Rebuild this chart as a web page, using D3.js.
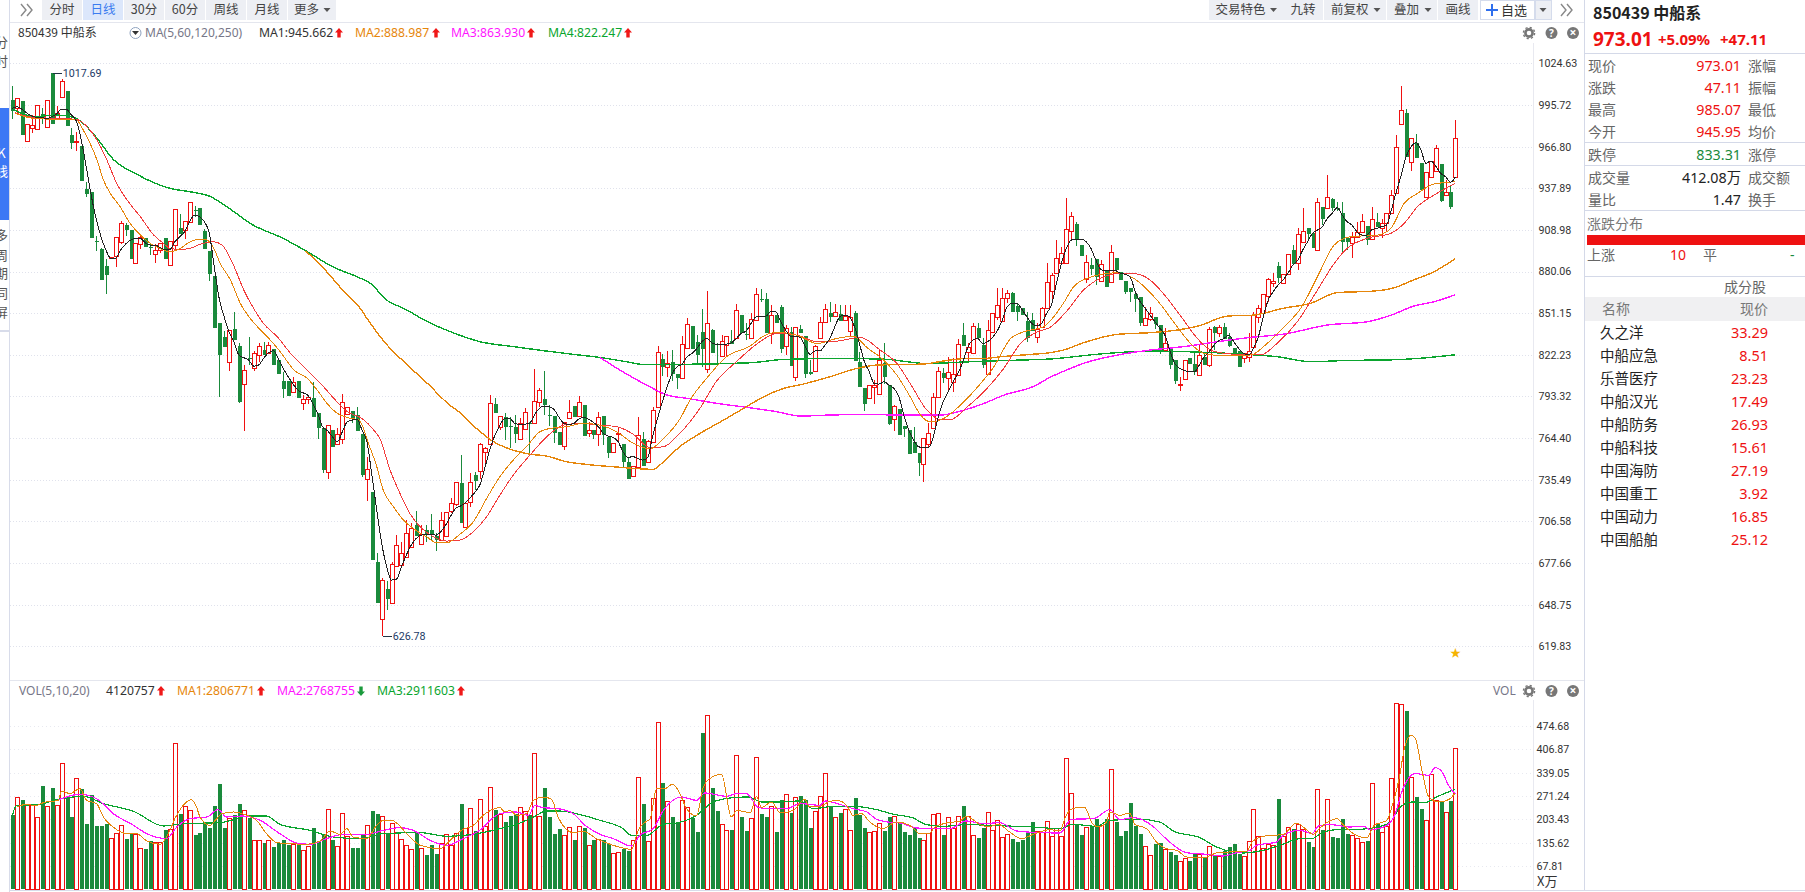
<!DOCTYPE html>
<html><head><meta charset="utf-8">
<style>html,body{margin:0;padding:0;background:#fff;overflow:hidden}svg{display:block}</style>
<script src="https://cdn.jsdelivr.net/npm/d3@7/dist/d3.min.js"></script></head>
<body><svg id="c" width="1805" height="892"></svg>
<script>
// ---------- candle data (index 0..293) ----------
const opens=[999.1,993.3,998.2,970.9,979.9,978.7,989.2,980.6,1017.6,985.7,
1001.0,1005.1,974.8,970.6,967.2,937.3,935.5,901.4,895.6,883.8,
889.6,890.8,900.7,912.3,908.8,885.7,898.9,903.0,896.8,891.9,
894.9,903.0,884.3,898.2,910.0,908.8,914.2,922.8,923.9,908.4,
894.5,876.9,844.5,834.7,817.4,839.8,828.3,802.3,819.7,813.4,
822.0,825.5,823.2,826.0,818.6,803.7,803.7,796.6,803.7,788.7,
791.2,791.9,781.5,771.1,741.0,770.0,760.3,763.5,780.9,783.2,
780.4,767.2,736.2,726.9,678.3,638.5,659.3,650.0,675.5,676.2,
682.0,688.9,704.0,690.6,700.5,700.5,696.6,693.6,696.6,714.0,
718.6,732.9,702.8,720.2,738.5,741.7,754.9,760.0,788.0,771.8,
778.8,772.9,771.8,763.5,770.4,775.1,774.6,789.7,791.3,780.5,
779.7,768.4,759.1,778.5,786.6,779.7,787.3,768.1,770.0,767.2,
779.9,765.3,754.5,767.4,760.3,747.8,738.3,744.5,763.7,747.5,
761.9,785.7,819.3,814.0,817.0,808.9,806.3,826.7,842.2,830.9,
838.0,812.1,839.4,829.5,821.6,829.2,831.8,833.6,849.6,836.7,
834.1,846.3,861.2,860.7,837.5,849.8,855.4,828.5,838.2,807.0,
839.8,835.2,810.4,810.9,834.1,844.7,851.0,849.3,850.3,846.3,
838.9,851.4,817.2,798.9,791.9,799.6,794.9,816.2,801.6,777.8,
784.5,772.7,769.9,761.8,754.2,746.3,760.2,771.6,792.6,809.8,
806.3,803.5,808.1,835.9,824.1,823.2,840.5,829.0,808.6,838.0,
848.2,845.6,861.8,864.9,856.1,854.7,845.6,846.1,834.8,841.7,
854.9,866.7,879.2,885.7,886.2,908.4,913.3,898.5,874.8,884.6,
888.5,873.7,881.1,872.5,889.2,880.0,873.5,868.6,864.2,862.1,
843.1,847.3,848.7,842.9,825.5,827.9,818.4,801.9,805.6,820.2,
815.8,808.2,820.9,815.1,841.3,837.1,841.3,834.3,826.7,824.6,
819.7,820.4,827.9,848.2,851.5,863.3,872.3,883.9,871.8,878.3,
894.9,885.7,900.8,910.0,906.6,895.0,925.1,923.9,930.4,923.9,
920.5,903.1,899.6,904.2,907.3,911.6,902.4,914.7,910.0,913.5,
920.9,934.8,982.5,989.9,956.3,969.1,955.6,932.0,945.9,950.1,954.7,933.2,935.0,945.95];
const closes=[991.7,1000.3,975.0,982.2,981.5,995.4,985.7,998.9,982.2,989.9,
1012.1,981.3,969.0,970.9,943.1,933.8,903.5,901.0,874.1,877.8,
889.9,903.7,913.5,908.8,888.7,899.6,903.7,897.3,896.4,894.9,
899.6,888.5,901.4,923.2,906.3,914.9,928.0,922.4,912.5,895.9,
878.5,841.0,822.2,827.8,839.4,832.4,789.4,811.4,819.2,823.2,
828.3,822.0,829.0,815.1,809.1,798.4,793.6,803.5,792.4,791.7,
792.6,779.2,771.6,742.2,773.4,758.4,767.0,789.7,785.7,778.1,
769.3,738.7,742.7,679.7,650.0,665.8,652.8,676.9,690.1,684.3,
698.2,701.7,696.6,697.7,697.0,697.0,693.6,707.5,712.8,719.0,
733.6,705.6,719.0,733.6,734.8,760.3,757.2,788.5,782.0,779.7,
772.3,772.7,767.2,774.6,782.7,773.9,790.1,797.8,787.3,780.3,
768.1,759.6,775.3,782.2,778.8,789.7,766.0,770.0,766.5,778.8,
766.5,754.2,760.7,767.7,747.8,736.2,744.7,766.3,745.2,762.3,
783.9,823.9,814.0,816.3,808.9,805.9,829.5,843.4,826.2,822.1,
826.2,844.1,823.7,829.3,832.0,835.3,829.5,853.1,837.5,836.4,
846.8,864.4,861.0,837.5,849.8,844.5,826.2,840.5,814.6,841.2,
837.1,808.6,808.8,828.3,844.7,853.7,848.6,851.7,845.6,849.1,
848.6,817.9,800.0,788.0,801.6,801.6,818.6,807.0,774.1,786.6,
766.5,770.6,753.3,754.2,747.2,764.8,767.6,792.6,810.9,806.3,
810.2,808.8,829.7,828.3,827.3,842.2,833.8,815.1,839.4,851.0,
856.5,861.4,865.3,851.7,852.1,849.8,833.6,838.9,840.1,854.4,
872.5,877.6,889.2,892.7,909.3,918.6,901.9,890.8,886.4,881.6,
876.5,885.3,869.5,893.4,881.1,874.2,865.6,865.6,861.0,844.5,
847.5,851.0,843.6,825.5,830.2,815.1,804.0,802.1,818.6,815.8,
810.5,822.1,815.1,839.9,837.1,841.3,833.2,828.5,822.8,813.5,
823.7,825.1,849.8,854.5,864.2,874.8,873.7,875.3,878.1,892.2,
885.3,905.9,907.9,905.9,896.1,928.1,916.5,931.6,923.9,923.6,
900.8,900.8,903.8,907.7,915.1,901.9,916.3,911.2,913.5,920.9,
933.2,966.7,992.2,959.3,972.5,958.6,936.6,949.4,957.0,966.0,929.0,935.5,925.1,973.01];
const highs=[1008.8,1000.3,998.2,982.2,988.7,995.4,993.3,998.9,1017.69,995.0,
1013.5,1005.1,979.4,977.1,967.2,941.9,935.5,904.7,896.6,888.5,
890.3,903.7,915.1,913.9,908.8,899.6,906.1,903.0,900.0,898.9,
899.6,903.0,901.4,923.2,919.9,914.9,928.0,925.7,923.9,909.5,
894.5,876.9,844.5,838.7,839.4,851.7,830.1,815.1,834.7,824.8,
830.6,831.3,831.3,826.0,818.6,810.0,803.7,807.0,803.7,794.2,
792.6,803.5,781.5,771.1,773.4,770.0,771.1,794.7,785.7,783.2,
785.7,767.2,751.5,726.9,684.3,667.4,665.1,678.5,697.0,692.0,
707.5,705.2,713.7,704.0,704.0,711.4,698.2,713.3,712.8,723.0,
733.6,752.6,719.0,740.3,741.0,761.2,758.4,794.3,792.0,779.7,
782.0,778.8,780.4,778.1,785.0,775.8,812.3,798.9,811.0,787.3,
779.7,768.4,775.3,790.8,786.6,793.6,787.3,775.8,770.0,782.7,
779.9,765.3,760.7,771.8,760.3,751.0,744.7,778.8,768.4,763.0,
786.2,828.3,822.8,824.8,825.5,808.9,835.3,847.5,842.2,835.9,
854.0,866.3,839.9,830.2,835.9,835.3,839.4,857.5,849.6,844.0,
851.0,868.3,867.6,864.9,856.7,849.8,856.7,842.9,841.7,841.7,
842.9,835.2,818.6,829.0,848.6,857.4,858.6,857.4,856.7,856.7,
856.7,852.6,824.3,798.9,801.6,804.7,825.5,830.6,801.6,787.3,
784.5,772.7,769.9,771.8,754.2,764.8,775.0,795.4,813.9,812.8,
820.4,819.7,832.9,844.5,830.1,844.0,844.0,833.6,846.3,851.0,
868.3,868.3,867.2,866.0,857.9,854.7,852.1,851.0,844.0,855.1,
885.7,878.7,902.0,896.8,930.9,921.1,914.2,898.5,891.5,889.2,
888.5,888.0,881.1,898.5,889.2,880.0,873.5,868.6,864.2,862.1,
855.6,855.6,848.7,842.9,840.6,827.9,818.4,807.0,818.6,820.2,
823.9,829.0,824.4,841.7,842.2,842.9,844.5,837.1,826.7,825.0,
823.7,837.1,852.2,856.8,864.2,875.3,878.8,886.4,878.1,892.2,
898.5,910.0,923.9,910.0,906.6,930.9,925.1,947.1,930.9,928.5,
928.1,903.1,907.7,914.7,920.0,911.6,924.6,920.4,916.5,920.9,
936.7,974.8,1008.9,992.9,972.5,975.3,955.6,949.4,957.0,967.9,954.7,943.6,940.1,985.07];
const lows=[985.7,990.3,975.0,970.9,976.4,978.7,982.2,980.6,982.2,985.2,
1000.3,981.3,965.1,963.7,943.1,931.5,903.5,894.5,874.1,864.4,
889.2,883.4,898.9,904.9,888.7,885.7,895.6,897.3,891.5,885.7,
893.1,888.5,884.3,894.9,906.3,902.6,914.2,918.1,912.5,895.9,
873.6,841.0,793.1,827.8,811.1,832.4,788.9,769.5,815.1,811.1,
817.4,822.0,823.2,815.1,809.1,791.9,793.6,796.6,792.4,783.8,
787.8,779.2,763.9,739.9,735.9,758.4,759.6,760.3,780.9,774.6,
769.3,737.6,720.9,679.7,650.0,626.78,645.0,650.0,675.0,673.9,
682.0,688.9,696.6,690.6,692.4,693.6,686.2,693.6,695.4,712.1,
717.2,705.6,702.8,716.7,728.3,735.9,746.8,760.0,781.5,770.0,
763.0,757.2,760.7,763.5,770.4,752.6,774.6,785.7,780.4,772.8,
761.2,759.6,756.1,778.5,778.8,779.7,766.0,765.3,763.5,759.1,
759.6,750.3,754.5,760.7,744.0,736.2,737.1,744.5,745.2,747.5,
761.9,785.0,807.5,807.0,804.2,798.7,805.9,826.0,826.2,815.8,
814.0,809.3,823.7,814.7,821.6,820.9,829.5,833.6,837.5,832.4,
834.1,846.3,859.1,837.5,829.7,844.5,823.2,822.0,814.6,804.2,
837.1,806.3,808.1,810.9,834.1,844.7,845.2,849.3,845.6,846.3,
835.2,817.9,800.0,783.1,791.9,788.0,794.9,801.9,773.4,769.5,
766.5,765.3,753.3,754.2,738.0,734.1,758.4,771.6,792.6,802.8,
796.6,796.6,808.1,828.3,816.2,823.2,833.8,812.8,808.1,838.0,
846.3,845.6,857.9,851.7,845.6,849.8,831.3,838.9,830.1,841.7,
854.9,860.2,879.2,885.7,886.2,901.9,898.0,890.8,872.3,877.6,
870.7,873.7,869.5,872.5,881.1,874.2,864.4,858.6,852.2,842.2,
843.1,845.9,840.1,822.5,823.9,812.1,801.9,797.3,805.4,815.8,
808.2,807.7,815.1,814.0,825.5,834.8,833.2,827.4,822.8,813.5,
816.7,817.4,827.9,844.5,851.5,859.1,869.1,872.3,871.8,878.3,
885.3,881.1,900.8,901.9,896.1,894.3,912.3,923.9,922.3,922.0,
892.7,895.0,889.7,904.2,907.3,898.5,902.4,911.2,903.1,907.7,
920.9,934.3,982.5,959.3,950.1,958.6,936.6,932.0,945.9,950.1,928.5,932.5,923.2,945.95];
// volumes in units of 10k
const volumes=[215.3,268.7,259,244.4,244.4,210.5,299.7,241.5,294.9,244.4,
368.6,268.7,210.5,325,291,189.2,273.5,183.3,183.3,189.2,
150.4,164.9,188.2,145.5,162,162,121.3,116.4,139.7,137.7,
137.7,171.7,176.5,426.8,218.3,243.5,229.9,157.1,163.9,191.1,
178.5,241.5,307.5,178.5,207.6,215.3,247.4,229.9,207.6,144.5,
144.5,134.8,142.6,123.2,134.8,142.6,128,131,134.8,115.4,
125.1,178.5,137.7,162,234.7,142.6,125.1,223.1,155.2,120.3,
120.3,157.1,188.2,227,218.3,214.4,162,194,166.8,147.4,
128,118.3,163.9,121.3,98.9,128,101.9,135.8,162,128,
164.9,247.4,179.5,237.7,168.8,263.8,183.3,298.8,229.9,218.3,
195,212.4,218.3,239.6,228.9,215.3,397.7,214.4,293.9,209.5,
160,174.6,159.1,182.4,142.6,185.3,177.5,130,142.6,147.4,
144.5,131,106.7,109.6,116.4,110.6,144.5,327.9,247.4,141.6,
266.8,487.9,308.5,258,209.5,195,260.9,240.6,208.6,165.9,
454,508.3,293.9,227,191.1,173.6,171.7,391.9,209.5,168.8,
208.6,386.1,218.3,209.5,243.5,165.9,259,278.4,221.2,268.7,
270.6,259,177.5,228.9,271.6,339.5,238.6,211.5,221.2,234.7,
173.6,264.8,215.3,177.5,165.9,170.7,194,168.8,209.5,214.4,
192.1,165.9,157.1,177.5,148.4,144.5,163.9,220.2,223.1,157.1,
211.5,179.5,214.4,241.5,214.4,159.1,148.4,177.5,226,173.6,
202.7,153.3,162,145.5,136.8,142.6,163,195,168.8,165.9,
199.8,156.2,177.5,156.2,383.2,281.3,189.2,157.1,182.4,185.3,
203.7,188.2,203.7,351.1,195,154.2,168.8,250.3,183.3,160,
127.1,100.9,131,133.9,118.3,107.7,98.9,83.4,92.2,81.5,
103.8,103.8,92.2,127.1,98,98,110.6,122.2,131,101.9,
98,141.6,234.7,156.2,121.3,131,130,261.9,156.2,182.4,
174.6,191.1,176.5,136.8,122.2,292.9,171.7,263.8,151.3,148.4,
203.7,160,159.1,150.4,138.7,139.7,310.4,191.1,167.8,185.3,
325,543.2,538.4,518,326.9,267.7,232.8,202.7,336.6,259,254.1,226,256.1,412.08];
// ---------- price moving averages ----------
const ma1Line=[993.3,994.5,992.5,989.9,988.0,987.1,986.8,986.4,987.5,989.4,
992.9,992.6,988.7,984.5,971.3,952.8,933.1,916.9,904.2,895.0,
889.2,889.2,895.0,899.1,901.9,903.0,903.0,900.0,898.4,898.4,
896.8,895.0,895.4,900.7,904.2,907.7,914.6,919.2,918.1,914.6,
906.5,883.4,861.4,848.7,838.2,831.3,822.0,820.2,818.6,814.4,
815.1,819.7,823.6,825.0,819.7,812.8,807.0,801.9,797.7,795.9,
794.2,788.5,781.5,772.2,769.5,765.3,761.8,768.8,775.7,776.9,
777.4,770.0,761.9,738.7,714.4,691.3,675.0,665.8,666.5,675.0,
683.2,690.1,694.7,697.0,697.5,697.7,697.0,699.4,704.0,710.2,
715.6,717.2,719.5,723.2,727.1,732.5,744.5,757.2,766.5,773.4,
778.1,778.1,774.6,773.9,774.1,774.6,780.4,785.0,786.6,786.2,
784.3,778.8,774.6,773.9,774.6,777.6,778.8,777.4,775.3,772.3,
767.7,765.8,764.9,761.9,754.9,751.0,751.5,750.3,749.1,751.0,
765.3,778.1,789.7,800.5,809.3,814.0,815.6,820.9,823.2,826.7,
831.3,833.6,830.6,829.5,829.7,829.7,830.6,833.6,837.1,838.7,
844.0,848.6,849.1,849.1,852.1,852.1,845.2,839.4,835.2,835.2,
834.3,827.8,822.5,825.0,825.0,829.0,833.6,841.7,848.6,849.8,
848.6,841.7,830.1,817.4,810.4,802.3,801.9,803.5,801.2,798.9,
793.1,780.4,769.9,763.0,758.4,757.7,757.7,765.3,779.2,789.6,
796.6,803.5,809.3,817.4,827.3,832.4,833.6,830.1,831.3,834.3,
838.9,846.3,855.6,857.9,857.9,853.7,848.6,844.0,842.4,844.0,
851.0,857.0,871.8,885.7,896.1,901.9,902.4,902.4,900.8,896.1,
888.0,881.6,880.6,880.6,880.6,878.8,878.1,876.0,866.0,859.1,
854.5,849.8,845.2,840.6,836.0,825.5,816.3,812.8,811.2,810.5,
810.5,815.1,820.9,824.4,829.0,832.0,833.6,835.9,831.3,826.7,
823.2,822.1,826.7,834.8,848.7,860.3,866.0,870.7,874.2,878.8,
884.6,888.0,895.0,900.8,906.6,908.9,911.2,917.0,920.5,924.4,
919.3,914.7,912.3,907.7,905.4,905.4,908.9,910.0,911.2,912.3,
922.8,935.5,947.1,959.8,966.7,969.5,964.4,955.2,956.8,953.3,948.2,945.9,942.0,945.66];
const shortOrange=[[.5,989.9],[4.3,986.4],[9,985.7],[13,985.2],[14.4,978.3],[15.8,969],[17.2,957.4],[18.5,943.6],[19.9,934.3],[21.9,925],[23.9,913.5],[26,905.4],[28,899.6],[30,896.1],[32,893.8],[34.1,896.1],[36.1,900.7],[38.2,902.4],[39.5,901.9],[40.9,896.1],[42.2,885.7],[44.3,874.1],[46.3,857.9],[48.3,847.5],[50.4,839.4],[52.4,832.4],[54.4,824.3],[57.2,811.6],[59.9,805.8],[61.9,797.7],[63.9,788.5],[66,781.5],[68,778.7],[70.4,776.9],[72.3,760.7],[74,744.5],[75.3,728.3],[77.4,716.7],[79.4,707.5],[81.4,701.7],[84.1,695.9],[86.2,691.7],[88.2,691.7],[90.9,697.7],[93.6,706.3],[96.3,722.5],[99,737.6],[101.7,749.1],[104.4,758.4],[107.1,768.8],[109.2,771.1],[112.5,772.3],[115.9,774.6],[119.3,773.4],[122.7,768.8],[126.1,760.7],[129.5,757],[132.2,764],[135.6,778],[137.6,790.8],[141,806],[145,820.9],[149.8,828.3],[152.5,835.2],[155.2,837.8],[159.3,835.9],[163.4,830.1],[167.4,833.6],[170.8,835.2],[173.5,827.3],[176.9,818.6],[179.6,808.1],[182.3,793.1],[184.4,780.4],[186.4,775.7],[189.1,778],[192.5,787.3],[196.6,802.3],[199.3,813.9],[202.7,833.6],[205.4,838.2],[209.5,842],[213.4,858],[215.5,869.5],[218.2,875.3],[224.3,879.2],[227.7,875.3],[232.4,860.3],[236.5,841.7],[239.2,830.2],[241.9,823.2],[246,821.6],[251.4,822.1],[254.8,830.2],[258.2,841.7],[261.6,854.5],[265,876.5],[268.4,898.5],[271.7,904.2],[277.2,905.4],[279.9,910],[282.6,927.4],[285.3,934.3],[288.7,940.8],[293,942.4]];
const shortRed=[[.5,990.3],[4.3,987.1],[9,986.4],[13,985.7],[15.5,979.4],[17.2,971.3],[19.2,957.4],[21.2,941.2],[23.3,929.7],[26,918.1],[28.7,905.4],[30.7,899.6],[32,896.1],[34.1,895.4],[36.1,896.1],[38.2,899.1],[40.9,900.7],[42.6,898.4],[44.9,884.5],[47,867.2],[49,854.4],[51,844],[53.8,834.7],[56.5,823.2],[59.9,811.6],[62.6,802.3],[65.3,791.9],[68,782.7],[71,778],[73.4,769.9],[74.6,764.2],[76.7,742.2],[78.7,726],[80.7,712.1],[82.8,702.8],[85.5,695.9],[88.2,692.9],[90.9,693.6],[93.6,699.4],[96.3,709.8],[99,724.8],[101.7,738.7],[105.1,752.6],[108.5,765.3],[111.9,773.4],[115.3,774.6],[119.3,773.4],[122.7,772.3],[126.1,767],[129.5,757.7],[132.2,758.4],[135.6,768],[139.6,785],[143,804],[147,817.4],[151.8,831.3],[155.2,837.1],[159.3,835.9],[163.4,831.3],[167.4,831.7],[172.2,834.3],[176.2,825.5],[179.6,816.2],[182.3,802.3],[185.7,783.8],[188.5,777.3],[190.5,777.3],[193.9,786.1],[197.9,798.9],[201.3,812.8],[204.7,830.1],[208.1,838.2],[210.7,841.3],[214,852.2],[217.5,867.2],[220.9,875.3],[225.3,878.8],[228.4,878.3],[231,874.2],[234.5,861.4],[237.8,846.4],[240.6,833.6],[243.3,825.5],[247.3,822.8],[253.4,822.1],[256.8,830.2],[260.9,845.2],[265,867.2],[268.4,885.7],[271,896.1],[275.1,903.1],[279.9,906.6],[282.6,913.5],[285.3,925.1],[288.7,933.2],[293,941.3]];
const ma2Line=[[59.5,894.5],[62.6,884.5],[68,863.7],[70.4,855.6],[72,847.5],[76.1,829],[78.8,819.7],[84.3,802.3],[89,786.8],[90.2,783.9],[95,768.8],[97.7,761.9],[101,756.8],[105,753.3],[108.5,751.9],[112.5,748],[116.6,746.1],[122,744.5],[126,743.4],[130.1,742.7],[132.5,749],[135.5,758.4],[139.6,767.6],[144.4,776.9],[149,786.1],[152.5,793],[156.6,798.9],[160.6,801.9],[166,807],[171.5,812.8],[175.6,815.1],[180.3,815.5],[185,815.8],[189,817.9],[194,819.7],[197.3,819.7],[200.7,820.9],[206.8,822.5],[210.7,823.7],[213.4,825.5],[217.5,830.6],[224.3,836.4],[231,837.6],[236.5,839.4],[241,842.4],[246.7,849.1],[252,849.8],[258,854.5],[263.6,858],[269,865.4],[276.5,866.5],[280.6,868.8],[284,873.5],[288.7,880],[293,888.99]];
const ma3Line=[[119.3,820.4],[124.7,808.9],[128.8,801.2],[132.9,794.3],[137,792],[143,788.5],[149.9,785.4],[155.2,782.7],[160,779.7],[166,780.4],[173.5,780.8],[180.3,780.4],[188.5,780.4],[193.2,783.8],[197.3,788.5],[201.3,794.2],[207.5,800.5],[210.7,806.6],[214,811.6],[217.5,816.3],[224.3,822],[231,825.5],[237.8,827.9],[244.6,831.3],[251.4,834.3],[258.2,836.6],[267,842.9],[275.1,845.2],[280,849.8],[284.6,856.1],[288.7,859.1],[293,863.93]];
const ma4Line=[[.5,992.2],[4.3,987.6],[9,988.7],[12.4,987.1],[14.4,982.9],[17.2,972.5],[20.5,957.9],[25.3,947.5],[32,937.8],[36,935.5],[40,932.4],[45,921.6],[48.3,913.5],[55,903],[59.9,893.8],[65.3,882.9],[70,876.4],[72.7,871.8],[76,860.2],[79.5,854.4],[84.3,845.2],[89,838.2],[95,831.3],[101.7,827.9],[108.5,824.8],[115.3,822],[119.3,820.4],[124.7,817.4],[128,815.6],[135.4,815.6],[149.9,816.7],[156.6,819],[168,819.7],[177,819.2],[185.6,816.2],[194.4,817.4],[204,818.5],[210.7,819.3],[220.9,822.8],[231,824.8],[241,824.1],[252.8,822],[256.8,820.9],[263.6,817.4],[271.7,818.4],[278.6,818.6],[285.4,819.7],[293,822.25]];
// ---------- volume moving averages ----------
const volMa1=[[.9,239.6],[2.6,246.4],[4.9,244.4],[6.3,252.2],[9.3,259],[10,286.2],[11.7,278.4],[13.7,292.9],[15.1,259],[17.1,249.3],[18.5,210.5],[21.2,173.6],[23.2,162],[25.2,162],[27.3,140.7],[30,131],[32,171.7],[33,205.6],[34.7,244.4],[36.4,260.9],[37.4,239.6],[38.1,210.5],[40.1,186.2],[41.5,205.6],[42.5,220.2],[44.9,225],[47.6,215.3],[49.6,200.8],[51.6,162],[53.7,135.8],[56.4,132.9],[59.8,131],[62.5,140.7],[64.5,169.8],[66.5,160],[67.9,176.5],[69.2,152.3],[71.9,147.4],[74,186.2],[75.3,200.8],[77,200.8],[80.1,162],[82.8,128],[86.8,118.3],[88.9,142.6],[91.2,171.7],[93.6,186.2],[95.6,215.3],[99,237.7],[100,225],[101,229.9],[102.4,215.3],[104.4,220.2],[105.8,259],[107.8,268.7],[109.5,261.9],[110.8,210.5],[113.9,164.9],[115.9,168.8],[118.6,147.4],[122,128],[125.7,116.4],[127.1,171.7],[128.1,191.1],[129.5,205.6],[130.8,292.9],[132.5,292.9],[134,305.6],[135.2,288.1],[136.9,234.7],[138.9,213.4],[140.3,297.8],[141.6,322],[144,334.7],[146,210.5],[147.1,229.9],[149.8,223.1],[151.1,268.7],[152.1,237.7],[154.2,254.1],[155.9,222.1],[158.6,229.9],[160.9,261.9],[161.9,239.6],[164,241.5],[165.7,254.1],[167.4,259],[169.4,244.4],[170.7,215.3],[172.4,220.2],[174.1,195.9],[176.8,176.5],[179.5,195.9],[182.2,186.2],[184.3,162],[186.3,163.9],[187.3,181.4],[189.7,193],[192.4,198.9],[193.7,212.4],[196.4,189.2],[198.1,181.4],[200.2,189.2],[202.5,166.8],[204.9,147.4],[207.3,160],[209.3,169.8],[210.7,173.6],[212.7,169.8],[213.7,205.6],[214.7,229.9],[216.1,237.7],[217.8,237.7],[219.1,195.9],[220.5,181.4],[222.2,195.9],[222.8,225],[224.9,215.3],[226.9,222.1],[227.9,189.2],[230.3,176.5],[232.3,137.7],[234.3,118.3],[236.4,113.5],[238.4,94.1],[241.8,91.2],[244.5,105.7],[247.2,108.6],[250.6,110.6],[251.9,140.7],[254.7,156.2],[258,159.1],[260.7,193],[262.9,171.7],[264.1,160],[265.6,179.5],[267.3,197.9],[268.9,205.6],[270.3,186.2],[272,164.9],[275,149.4],[276.5,186.2],[279.1,200.8],[280.1,239.6],[281.5,317.2],[282.8,419],[284,448.1],[284.9,438.4],[286.2,346.3],[287.6,268.7],[289.6,254.1],[291.6,260.9],[293,280.68]];
const volMa2=[[9,258],[10,263.8],[13.7,276.5],[17.1,263.8],[20.5,220.2],[24.6,186.2],[27.3,162],[31.3,147.4],[33.4,181.4],[36.1,205.6],[39.5,210.5],[41.8,231.8],[43.5,210.5],[46.9,213.4],[50.3,200.8],[54.3,162],[57.7,134.8],[60.4,131],[63.8,147.4],[67.2,160],[71.9,159.1],[74.6,168.8],[78.7,179.5],[81.4,171.7],[84.8,142.6],[88.2,128],[91.6,147.4],[94.9,171.7],[99,220.2],[102.4,225],[104.8,215.3],[106.1,243.5],[107.8,237.7],[110.8,234.7],[113.9,220.2],[116.3,186.2],[119,162],[122,147.4],[125.7,126.1],[127.4,157.1],[130.1,176.5],[132.2,229.9],[135.9,268.7],[138.9,259],[140.6,280.3],[145,270.6],[147.1,278.4],[149.1,278.4],[151.5,237.7],[154.5,234.7],[157.2,234.7],[159.9,249.3],[164,244.4],[165,257.1],[168,247.4],[170.7,234.7],[173.5,225],[175.5,203.7],[178.9,194],[180.2,193],[183.6,178.5],[187,176.5],[190.4,176.5],[193.7,198.9],[197.1,191.1],[200.5,194],[203.9,169.8],[208.6,164.9],[212.7,163.9],[215,203.7],[219.5,205.6],[222.8,231.8],[224.9,202.7],[227.6,208.6],[231.6,183.3],[233.7,154.2],[238.4,106.7],[242.5,101.9],[245.9,97],[248.6,106.7],[251.3,113.5],[252.6,128],[256.7,137.7],[258,157.1],[261.5,172],[263.9,162],[265.2,184.3],[267.6,188.2],[271.6,181.4],[274.4,183.3],[275.7,173.6],[279.1,186.2],[280.8,220.2],[282.1,283.2],[284.9,336.6],[287.6,331.7],[288.9,354],[290.3,341.4],[291.6,302.6],[293,276.88]];
const volMa3=[[0,215.3],[.9,244.4],[4.9,246.4],[10,263.8],[14.4,270.6],[18.5,249.3],[24.6,227],[30.7,184.3],[34.7,191.1],[42.2,194],[48.3,213.4],[51.6,213.4],[54.3,189.2],[60.4,171.7],[65.2,152.3],[70.6,147.4],[75.3,162],[82.8,164.9],[88.2,154.2],[93.6,160],[99,176.5],[102.4,189.2],[107.1,220.2],[108.1,228],[110.8,228],[115.9,215.3],[119.3,200.8],[124,176.5],[125.7,157.1],[128.8,157.1],[132.2,189.2],[134.9,193],[138.9,215.3],[142.3,254.1],[146.4,266.8],[149.4,268.7],[152.1,254.1],[155.2,254.1],[159.9,257.1],[162.6,234.7],[166.7,241.5],[170.7,241.5],[175.5,231.8],[178.9,218.3],[182.9,207.6],[185.6,188.2],[189,183.3],[193.7,188.2],[199.8,185.3],[207.3,181.4],[212.7,176.5],[215.4,189.2],[220.1,183.3],[222.8,200.8],[228.9,203.7],[233,195.9],[235.7,169.8],[241.1,150.4],[244.5,123.2],[249.9,105.7],[254,113.5],[257.4,128],[261.5,147.4],[263.9,147.4],[265.6,162],[269,173.6],[273.7,174.6],[277.7,183.3],[279.8,195.9],[281.8,239.6],[284.2,254.1],[286.9,252.2],[288.9,266.8],[293,291.16]];
// ---------- ticks and text ----------
const priceTicks=[1024.63,995.72,966.80,937.89,908.98,880.06,851.15,822.23,793.32,764.40,735.49,706.58,677.66,648.75,619.83];
const volTicks=[474.68,406.87,339.05,271.24,203.43,135.62,67.81];
const leftTabs=["分时","日线","30分","60分","周线","月线","更多"];
const rightTools=["交易特色","九转","前复权","叠加","画线"];
const quoteLabels=["现价","涨跌","最高","今开"], quoteValues=["973.01","47.11","985.07","945.95"], quoteRight=["涨幅","振幅","最低","均价"];
const stockNames=["久之洋","中船应急","乐普医疗","中船汉光","中船防务","中船科技","中国海防","中国重工","中国动力","中国船舶"];
const stockPrices=["33.29","8.51","23.23","17.49","26.93","15.61","27.19","3.92","16.85","25.12"];

const RED="#f01010",GREEN="#1a8a3c",CJK='"Noto Sans CJK SC","Noto Sans",sans-serif',NUM='"Noto Sans","Noto Sans CJK SC",sans-serif',AX='Roboto,"Noto Sans",sans-serif';
const svg=d3.select("#c");
const x=d3.scaleLinear().domain([0,293]).range([12.33,1455.4]);
const y=d3.scaleLinear().domain([619.83,1024.63]).range([646.3,63.3]);
const yv=d3.scaleLinear().domain([0,474.68]).range([889.3,726.2]);
const T=(g,t,px,py,o={})=>g.append("text").attr("x",px).attr("y",py).attr("dy","0.35em").text(t)
  .attr("font-family",o.f||CJK).attr("font-size",o.s||12).attr("fill",o.c||"#333").attr("text-anchor",o.a||"start").attr("font-weight",o.w||400);
const R=(g,a,b,w,h,f)=>g.append("rect").attr("x",a).attr("y",b).attr("width",w).attr("height",h).attr("fill",f).attr("shape-rendering","crispEdges");
const L=(g,a,b,c,d,s,dash)=>g.append("line").attr("x1",a).attr("y1",b).attr("x2",c).attr("y2",d).attr("stroke",s).attr("shape-rendering","crispEdges").attr("stroke-dasharray",dash||null);

// grids
const grid=svg.append("g");
priceTicks.forEach(t=>L(grid,10,Math.round(y(t))+.5,1533,Math.round(y(t))+.5,"#e0e2ec","1 2"));
volTicks.forEach(t=>L(grid,10,Math.round(yv(t))+.5,1533,Math.round(yv(t))+.5,"#e8e9f0","1 3"));

// candles
const cg=svg.append("g");
closes.forEach((c,i)=>{
  const o=opens[i],up=c>=o,col=up?RED:GREEN,cx=Math.round(x(i))+.5;
  const top=Math.round(y(Math.max(o,c))),bot=Math.max(top+1,Math.round(y(Math.min(o,c))));
  if(up){
    L(cg,cx,y(highs[i]),cx,top,col); L(cg,cx,bot,cx,y(lows[i]),col);
    cg.append("rect").attr("x",cx-2).attr("y",top+.5).attr("width",4).attr("height",Math.max(1,bot-top)).attr("fill","#fff").attr("stroke",col).attr("shape-rendering","crispEdges");
  }else{
    L(cg,cx,y(highs[i]),cx,y(lows[i]),col);
    R(cg,cx-2,top,4,Math.max(1,bot-top),col);
  }
});
// price lines
const priceLine=d3.line().x(d=>x(d[0])).y(d=>y(d[1])).curve(d3.curveMonotoneX);
const lg=svg.append("g").attr("fill","none");
const draw=(g,gen,data,col,w)=>g.append("path").attr("d",gen(data)).attr("stroke",col).attr("stroke-width",w).attr("fill","none").attr("shape-rendering","crispEdges");
draw(lg,priceLine,ma4Line,"#0aa52e",1.4);
draw(lg,priceLine,ma3Line,"#ff14ff",1.4);
draw(lg,priceLine,ma2Line,"#e6860b",1.4);
draw(lg,priceLine,shortRed,"#f23c3c",1);
draw(lg,priceLine,shortOrange,"#e6860b",1);
draw(lg,priceLine,ma1Line.map((v,i)=>[i,v]),"#222",1);

// high/low marks
const mk=svg.append("g");
const iHi=highs.indexOf(d3.max(highs)),iLo=lows.indexOf(d3.min(lows));
L(mk,x(iHi)+1,y(highs[iHi]),x(iHi)+10,y(highs[iHi]),"#234");
T(mk,"1017.69",x(iHi)+11,y(highs[iHi]),{f:AX,s:10.7,c:"#233a66"});
L(mk,x(iLo)+1,y(lows[iLo]),x(iLo)+10,y(lows[iLo]),"#234");
T(mk,"626.78",x(iLo)+11,y(lows[iLo]),{f:AX,s:10.7,c:"#233a66"});
T(mk,"★",x(293),653,{s:11,c:"#f5b301",a:"middle"});

// axes
const axP=svg.append("g").attr("transform","translate(1533.5,0)").call(d3.axisRight(y).tickValues(priceTicks).tickSize(0).tickPadding(5).tickFormat(d3.format(".2f")));
const axV=svg.append("g").attr("transform","translate(1533.5,0)").call(d3.axisRight(yv).tickValues(volTicks).tickSize(0).tickPadding(3).tickFormat(d3.format(".2f")));
[axP,axV].forEach(a=>{a.select(".domain").remove();a.selectAll("text").attr("font-family",AX).attr("font-size",10.7).attr("fill","#333");});
T(svg,"X万",1537,881,{s:13,c:"#333"});

// volume bars
const vg=svg.append("g");
volumes.forEach((v,i)=>{
  const up=closes[i]>=opens[i],cx=Math.round(x(i))+.5,t=Math.round(yv(v));
  if(up) vg.append("rect").attr("x",cx-2).attr("y",t+.5).attr("width",4).attr("height",889-t).attr("fill","#fff").attr("stroke",RED).attr("shape-rendering","crispEdges");
  else R(vg,cx-2,t,4,889-t,GREEN);
});
const volLine=d3.line().x(d=>x(d[0])).y(d=>yv(d[1])).curve(d3.curveMonotoneX);
draw(vg,volLine,volMa3,"#0aa52e",1.2);
draw(vg,volLine,volMa2,"#ff14ff",1.2);
draw(vg,volLine,volMa1,"#e6860b",1);

// frame
const fr=svg.append("g");
L(fr,10,22.5,1585,22.5,"#e4e6ee");
L(fr,10,680.5,1585,680.5,"#e4e6ee");
L(fr,1533.5,43,1533.5,680,"#e8e9f0");
L(fr,1533.5,700,1533.5,890,"#e8e9f0");
L(fr,9.5,0,9.5,892,"#d8dcea");
L(fr,10,890.5,1805,890.5,"#d8dcea");
L(fr,1584.5,0,1584.5,890,"#d4d9e8");

// left strip (clipped vertical tabs)
svg.append("clipPath").attr("id","lc").append("rect").attr("x",0).attr("y",0).attr("width",9).attr("height",892);
const ls=svg.append("g").attr("clip-path","url(#lc)");
R(ls,0,108,9,112,"#3d78f5");
[["分",42],["时",61],["多",235],["周",255],["期",273],["同",293],["屏",312]].forEach(d=>T(ls,d[0],1.5,d[1],{s:13,c:"#555",a:"middle"}));
[["K",153],["线",171]].forEach(d=>T(ls,d[0],1.5,d[1],{s:13,c:"#fff",a:"middle"}));
R(ls,0,330,9,2,"#d8dcea");

// toolbar
const tb=svg.append("g");
const chev=(g,cx,cy)=>{[0,6].forEach(d=>g.append("path").attr("d",`M${cx-5+d},${cy-6}L${cx+d},${cy}L${cx-5+d},${cy+6}`).attr("fill","none").attr("stroke","#888").attr("stroke-width",1.4));};
chev(tb,26,10);
const tabW=[[42,40],[83,40],[124,40],[165,40],[206,40],[247,40],[288,48]];
leftTabs.forEach((t,i)=>{
  R(tb,tabW[i][0],0,tabW[i][1],20,i==1?"#dce7fb":"#edeff4");
  T(tb,t,tabW[i][0]+(i==6?6:tabW[i][1]/2),10,{s:12.5,c:i==1?"#3b7cf0":"#444",a:i==6?"start":"middle"});
});
const tri=(g,cx,cy,c)=>g.append("path").attr("d",`M${cx-3.5},${cy-2}L${cx+3.5},${cy-2}L${cx},${cy+2}Z`).attr("fill",c||"#555");
tri(tb,327,10);
const rTab=[[1208.5,74,1],[1283,40,0],[1324,62,1],[1387,50,1],[1438,40,0]];
rightTools.forEach((t,i)=>{
  const [a,w,d]=rTab[i];
  R(tb,a,0,w,20,"#edeff4");
  T(tb,t,d?a+7:a+w/2,10,{s:12.5,c:"#444",a:d?"start":"middle"});
  if(d) tri(tb,a+w-9,10);
});
tb.append("rect").attr("x",1480.5).attr("y",.5).attr("width",54).attr("height",19).attr("fill","#fff").attr("stroke","#d5dcec").attr("shape-rendering","crispEdges");
L(tb,1492,4,1492,16,"#2f6fed");L(tb,1486,10,1498,10,"#2f6fed");
tb.selectAll("line").attr("stroke-width",1.5);
T(tb,"自选",1501,10,{s:13,c:"#333"});
tb.append("rect").attr("x",1535.5).attr("y",.5).attr("width",16).attr("height",19).attr("fill","#edeff4").attr("stroke","#d5dcec").attr("shape-rendering","crispEdges");
tri(tb,1543,10);
chev(tb,1566,10);

// legends
const lgd=svg.append("g");
const arrow=(g,cx,cy,up)=>{const s=up?1:-1,c=up?"#f01818":"#1a9a3c";g.append("path").attr("fill",c).attr("d",`M${cx},${cy-5*s}L${cx+4},${cy-.5*s}L${cx+1.7},${cy-.5*s}L${cx+1.7},${cy+4.5*s}L${cx-1.7},${cy+4.5*s}L${cx-1.7},${cy-.5*s}L${cx-4},${cy-.5*s}Z`);};
T(lgd,"850439 中船系",18,33,{s:12,c:"#333"});
lgd.append("circle").attr("cx",135.5).attr("cy",33).attr("r",5.5).attr("fill","#fff").attr("stroke","#8fa3c0");
tri(lgd,135.5,33,"#333");
T(lgd,"MA(5,60,120,250)",145,33,{f:NUM,s:12,c:"#778"});
[["MA1:945.662",259,"#333",339],["MA2:888.987",355,"#e6860b",436],["MA3:863.930",451,"#ff14ff",531],["MA4:822.247",548,"#0aa52e",628]].forEach(d=>{T(lgd,d[0],d[1],33,{f:NUM,s:12.2,c:d[2]});arrow(lgd,d[3],33,true);});
T(lgd,"VOL(5,10,20)",19,691,{f:NUM,s:12,c:"#778"});
T(lgd,"4120757",106,691,{f:NUM,s:12.2,c:"#333"});arrow(lgd,161,691,true);
T(lgd,"MA1:2806771",177,691,{f:NUM,s:12.2,c:"#e6860b"});arrow(lgd,261,691,true);
T(lgd,"MA2:2768755",277,691,{f:NUM,s:12.2,c:"#ff14ff"});arrow(lgd,361,691,false);
T(lgd,"MA3:2911603",377,691,{f:NUM,s:12.2,c:"#0aa52e"});arrow(lgd,461,691,true);
T(lgd,"VOL",1493,691,{f:NUM,s:12,c:"#778"});
const icons=(yy)=>{
  const g=svg.append("g");
  g.append("circle").attr("cx",1529).attr("cy",yy).attr("r",3.6).attr("fill","none").attr("stroke","#777").attr("stroke-width",2.6);
  g.append("circle").attr("cx",1529).attr("cy",yy).attr("r",5.6).attr("fill","none").attr("stroke","#777").attr("stroke-width",1.4).attr("stroke-dasharray","2.2 2.2");
  g.append("circle").attr("cx",1551.5).attr("cy",yy).attr("r",6).attr("fill","#777");
  T(g,"?",1551.5,yy,{f:NUM,s:10,c:"#fff",a:"middle",w:700});
  g.append("circle").attr("cx",1573).attr("cy",yy).attr("r",6).attr("fill","#777");
  T(g,"×",1573,yy,{f:NUM,s:12,c:"#fff",a:"middle",w:700});
};
icons(33);icons(691);

// right quote panel
const rp=svg.append("g");
T(rp,"850439 中船系",1593,13,{s:16,c:"#222",w:700});
T(rp,"973.01",1593,39.5,{f:NUM,s:19,c:"#ee1111",w:700});
T(rp,"+5.09%",1658,39.5,{f:NUM,s:15,c:"#ee1111",w:700});
T(rp,"+47.11",1720,39.5,{f:NUM,s:15,c:"#ee1111",w:700});
[53,142,165,210,276].forEach(v=>L(rp,1585,v+.5,1805,v+.5,"#d4d9e8"));
const rowVal=(lab,val,r,yy,c)=>{T(rp,lab,1588,yy,{s:14,c:"#666"});T(rp,val,1741,yy,{f:NUM,s:14.3,c,a:"end"});T(rp,r,1748,yy,{s:14,c:"#666"});};
quoteLabels.forEach((l,i)=>rowVal(l,quoteValues[i],quoteRight[i],66+i*22,"#ee1111"));
rowVal("跌停","833.31","涨停",155,"#1a8a3c");
rowVal("成交量","412.08万","成交额",178,"#222");
rowVal("量比","1.47","换手",200,"#222");
T(rp,"涨跌分布",1587,224,{s:14,c:"#777"});
R(rp,1587,235,218,10,"#ee1111");
T(rp,"上涨",1587,255,{s:14,c:"#666"});
T(rp,"10",1670,255,{f:NUM,s:14,c:"#ee1111"});
T(rp,"平",1703,255,{s:14,c:"#666"});
T(rp,"-",1790,255,{f:NUM,s:14,c:"#1a8a3c"});
T(rp,"成分股",1745,287,{s:14,c:"#666",a:"middle"});
R(rp,1585,297,220,24,"#f0f0f2");
T(rp,"名称",1602,309.5,{s:14,c:"#777"});
T(rp,"现价",1768,309.5,{s:14,c:"#777",a:"end"});
stockNames.forEach((n,i)=>{
  const yy=332.7+i*23;
  T(rp,n,1600,yy,{s:14.5,c:"#222"});
  T(rp,stockPrices[i],1768,yy,{f:NUM,s:14.5,c:"#ee1111",a:"end"});
});
</script></body></html>
